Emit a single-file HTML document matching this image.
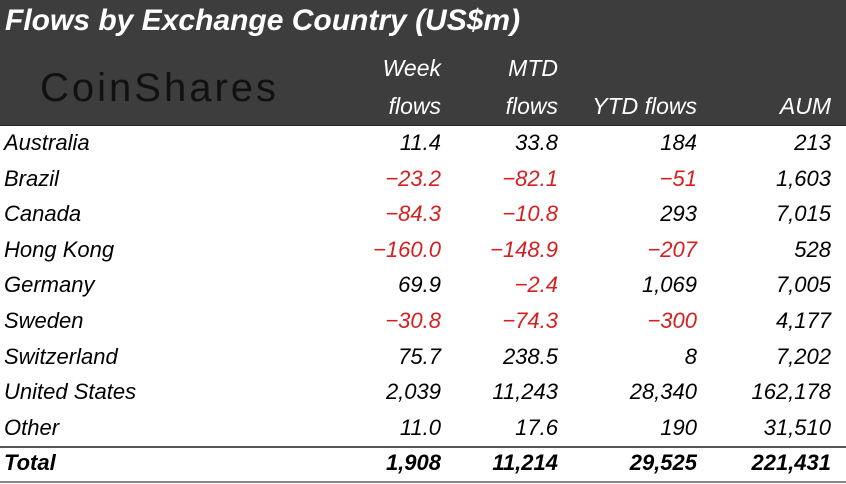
<!DOCTYPE html>
<html><head><meta charset="utf-8"><style>
body{margin:0;width:846px;height:484px;background:#fff;overflow:hidden;font-family:"Liberation Sans",sans-serif;position:relative}
.hdr{position:absolute;left:0;top:0;width:846px;height:125px;background:#3d3d3d}
.t{position:absolute;white-space:nowrap;font-style:italic;font-size:22px;line-height:24px}
.r{text-align:right}
.neg{color:#d42020}
.w{color:#fff;font-size:23px}
</style></head><body>
<div class="hdr"></div>
<div class="t w" style="left:5px;top:3px;font-size:30px;line-height:36px;font-weight:bold">Flows by Exchange Country (US$m)</div>
<div style="position:absolute;left:40px;top:66px;font-size:40px;color:#111;letter-spacing:3px;font-family:'Liberation Sans',sans-serif">CoinShares</div>
<div style="position:absolute;left:0;top:125px;width:846px;height:1px;background:#222"></div>
<div style="position:absolute;left:0;top:446px;width:846px;height:2px;background:#555"></div>
<div style="position:absolute;left:0;top:481px;width:846px;height:2px;background:#888"></div>
<div id="tbl"></div>
<script>
const countries=["Australia","Brazil","Canada","Hong Kong","Germany","Sweden","Switzerland","United States","Other","Total"];
const week=["11.4","-23.2","-84.3","-160.0","69.9","-30.8","75.7","2,039","11.0","1,908"];
const mtd=["33.8","-82.1","-10.8","-148.9","-2.4","-74.3","238.5","11,243","17.6","11,214"];
const ytd=["184","-51","293","-207","1,069","-300","8","28,340","190","29,525"];
const aum=["213","1,603","7,015","528","7,005","4,177","7,202","162,178","31,510","221,431"];
const cols=[week,mtd,ytd,aum];
const colNames=["week","mtd","ytd","aum"];
const rights=[441,558,697,831];
const heads=[["Week","flows"],["MTD","flows"],["","YTD flows"],["","AUM"]];
const tbl=document.getElementById('tbl');
function mk(txt,left,right,cy,cls){
  const d=document.createElement('div');
  d.className='t '+cls;d.textContent=txt.replace('-','\u2212');
  if(right!==null){d.style.right=(846-right)+'px';d.classList.add('r');}else d.style.left=left+'px';
  d.style.top=(cy-12)+'px';tbl.appendChild(d);return d;
}
heads.forEach((h,i)=>{
  if(h[0]){const a=mk(h[0],null,rights[i],68,'w');
  
  }
  const b=mk(h[1],null,rights[i],106,'w');
  
  
});
countries.forEach((c,r)=>{
  const cy=143+r*35.6;
  const tot=r===countries.length-1;
  const l=mk(c,4,null,cy,'');
  
  
  if(tot)l.style.fontWeight='bold';
  cols.forEach((col,i)=>{
    const v=col[r];
    const d=mk(v,null,rights[i],cy,v.startsWith('-')?'neg':'');
    
    
    if(tot)d.style.fontWeight='bold';
  });
});
</script>
</body></html>
